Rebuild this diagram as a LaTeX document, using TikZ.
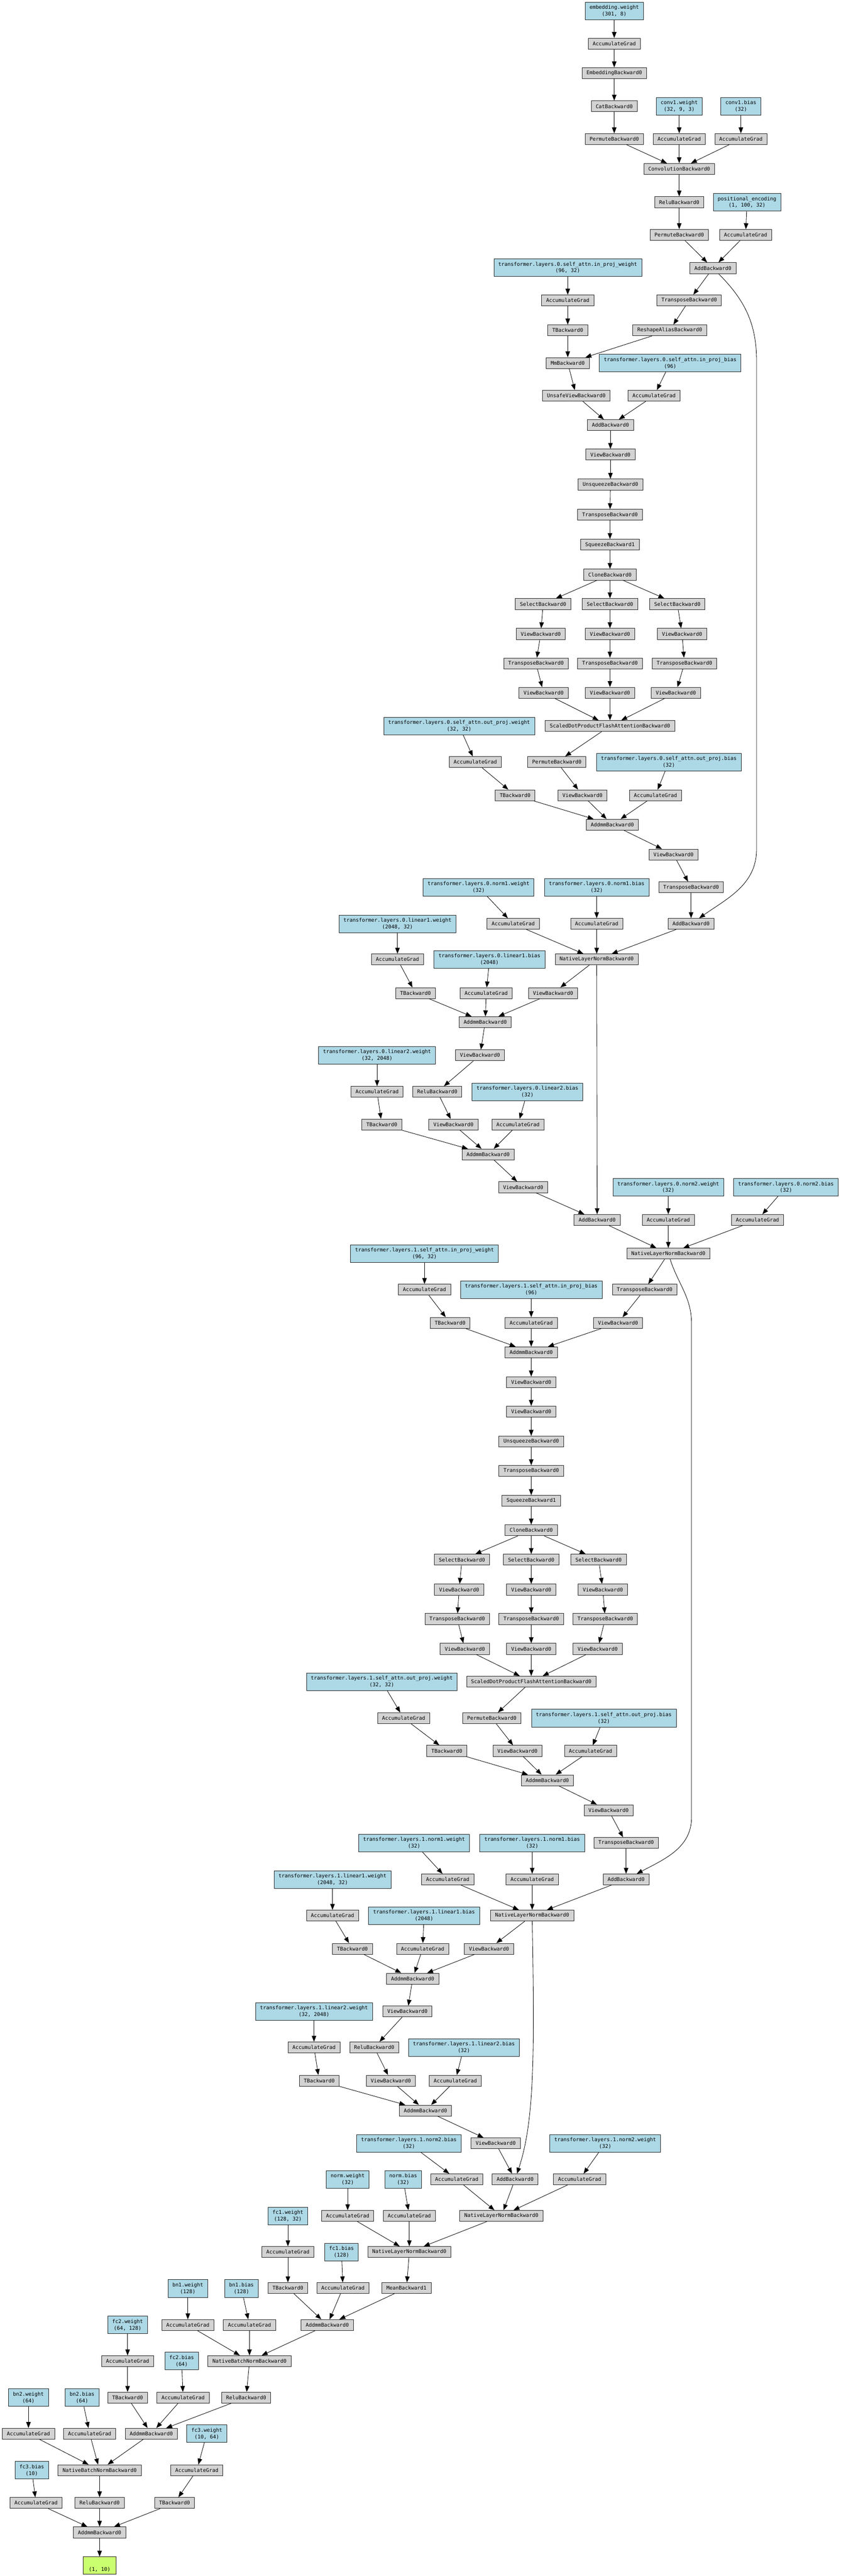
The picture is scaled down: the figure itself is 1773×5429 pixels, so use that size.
\documentclass[tikz,border=0pt]{standalone}
\usepackage{fontspec}
\setmonofont{DejaVu Sans Mono}
\usetikzlibrary{arrows.meta}
\definecolor{fngray}{HTML}{D3D3D3}
\definecolor{parblue}{HTML}{ADD8E6}
\definecolor{outgreen}{HTML}{CAFF70}
\newcommand{\gvfont}{\fontsize{10.8}{14}\selectfont\ttfamily}

\begin{document}
\begin{tikzpicture}[x=1pt, y=1pt, line width=0.9pt, >={Stealth[inset=0pt, length=12.5pt, width=9.5pt]},
	gradfn/.style={draw=black!85, rectangle, fill=fngray, minimum height=23pt, inner xsep=9.5pt, inner ysep=2pt, font=\gvfont},
	param/.style={gradfn, fill=parblue, minimum height=37pt, align=center},
	outv/.style={gradfn, fill=outgreen, minimum height=37pt, minimum width=70pt, align=center}]
				\fill[white] (0, 0) rectangle (1773, -5429);
				\node[param] (EW)at(1295, -23) {embedding.weight\\(301, 8)};
				\node[gradfn] (AGEW)at(1295, -92) {AccumulateGrad};
				\node[gradfn] (EMB)at(1295, -154) {EmbeddingBackward0};
				\node[gradfn] (CAT)at(1295, -224) {CatBackward0};
				\node[param] (CW)at(1432, -224) {conv1.weight\\(32, 9, 3)};
				\node[param] (CB)at(1562, -224) {conv1.bias\\(32)};
				\node[gradfn] (PMA)at(1295, -293) {PermuteBackward0};
				\node[gradfn] (AGCW)at(1432, -293) {AccumulateGrad};
				\node[gradfn] (AGCB)at(1562, -293) {AccumulateGrad};
				\node[gradfn] (CONV)at(1432, -356) {ConvolutionBackward0};
				\node[gradfn] (RLC)at(1432, -426) {ReluBackward0};
				\node[param] (PE)at(1575, -426) {positional\_encoding\\(1, 100, 32)};
				\node[gradfn] (PMB)at(1432, -495) {PermuteBackward0};
				\node[gradfn] (AGPE)at(1572, -495) {AccumulateGrad};
				\node[gradfn] (ADDA)at(1503, -565) {AddBackward0};
				\node[param] (IW0)at(1197, -564) {transformer.layers.0.self\_attn.in\_proj\_weight\\(96, 32)};
				\node[gradfn] (AGIW0)at(1197, -633) {AccumulateGrad};
				\node[gradfn] (TRA0)at(1453, -633) {TransposeBackward0};
				\node[gradfn] (TIW0)at(1197, -696) {TBackward0};
				\node[gradfn] (RSA0)at(1412, -696) {ReshapeAliasBackward0};
				\node[gradfn] (MM0)at(1197, -765) {MmBackward0};
				\node[param] (IB0)at(1413, -765) {transformer.layers.0.self\_attn.in\_proj\_bias\\(96)};
				\node[gradfn] (UV0)at(1215, -834) {UnsafeViewBackward0};
				\node[gradfn] (AGIB0)at(1379, -834) {AccumulateGrad};
				\node[gradfn] (ADDB0)at(1287, -896) {AddBackward0};
				\node[gradfn] (VA0)at(1287, -958) {ViewBackward0};
				\node[gradfn] (UNS0)at(1287, -1021) {UnsqueezeBackward0};
				\node[gradfn] (TRB0)at(1286, -1085) {TransposeBackward0};
				\node[gradfn] (SQ0)at(1286, -1148) {SqueezeBackward1};
				\node[gradfn] (CL0)at(1286, -1211) {CloneBackward0};
				\node[gradfn] (SL0)at(1145, -1273) {SelectBackward0};
				\node[gradfn] (SM0)at(1286, -1273) {SelectBackward0};
				\node[gradfn] (SR0)at(1428, -1273) {SelectBackward0};
				\node[gradfn] (VL0)at(1140, -1336) {ViewBackward0};
				\node[gradfn] (VM0)at(1286, -1336) {ViewBackward0};
				\node[gradfn] (VR0)at(1438, -1336) {ViewBackward0};
				\node[gradfn] (TL0)at(1130, -1398) {TransposeBackward0};
				\node[gradfn] (TM0)at(1286, -1398) {TransposeBackward0};
				\node[gradfn] (TR0)at(1443, -1398) {TransposeBackward0};
				\node[gradfn] (QL0)at(1146, -1460) {ViewBackward0};
				\node[gradfn] (QM0)at(1286, -1460) {ViewBackward0};
				\node[gradfn] (QR0)at(1425, -1460) {ViewBackward0};
				\node[gradfn] (SDP0)at(1286, -1530) {ScaledDotProductFlashAttentionBackward0};
				\node[param] (OW0)at(968, -1530) {transformer.layers.0.self\_attn.out\_proj.weight\\(32, 32)};
				\node[gradfn] (AGOW0)at(1002, -1606) {AccumulateGrad};
				\node[gradfn] (PRM0)at(1174, -1606) {PermuteBackward0};
				\node[param] (OB0)at(1410, -1606) {transformer.layers.0.self\_attn.out\_proj.bias\\(32)};
				\node[gradfn] (TOW0)at(1086, -1676) {TBackward0};
				\node[gradfn] (VO0)at(1228, -1676) {ViewBackward0};
				\node[gradfn] (AGOB0)at(1382, -1676) {AccumulateGrad};
				\node[gradfn] (AMO0)at(1291, -1738) {AddmmBackward0};
				\node[gradfn] (VP0)at(1420, -1801) {ViewBackward0};
				\node[param] (N1W0)at(1009, -1870) {transformer.layers.0.norm1.weight\\(32)};
				\node[param] (N1B0)at(1258, -1870) {transformer.layers.0.norm1.bias\\(32)};
				\node[gradfn] (TRC0)at(1457, -1870) {TransposeBackward0};
				\node[param] (L1W0)at(838, -1947) {transformer.layers.0.linear1.weight\\(2048, 32)};
				\node[gradfn] (AGN1W0)at(1082, -1947) {AccumulateGrad};
				\node[gradfn] (AGN1B0)at(1258, -1947) {AccumulateGrad};
				\node[gradfn] (ADDC0)at(1457, -1947) {AddBackward0};
				\node[gradfn] (AGL1W0)at(838, -2022) {AccumulateGrad};
				\node[param] (L1B0)at(1032, -2022) {transformer.layers.0.linear1.bias\\(2048)};
				\node[gradfn] (NLA0)at(1258, -2022) {NativeLayerNormBackward0};
				\node[gradfn] (TL1W0)at(876, -2093) {TBackward0};
				\node[gradfn] (AGL1B0)at(1025, -2093) {AccumulateGrad};
				\node[gradfn] (VF0)at(1166, -2093) {ViewBackward0};
				\node[gradfn] (AMF0)at(1023, -2154) {AddmmBackward0};
				\node[param] (L2W0)at(795, -2224) {transformer.layers.0.linear2.weight\\(32, 2048)};
				\node[gradfn] (VG0)at(1012, -2224) {ViewBackward0};
				\node[gradfn] (AGL2W0)at(795, -2301) {AccumulateGrad};
				\node[gradfn] (RL0)at(922, -2301) {ReluBackward0};
				\node[param] (L2B0)at(1112, -2301) {transformer.layers.0.linear2.bias\\(32)};
				\node[gradfn] (TL2W0)at(805, -2370) {TBackward0};
				\node[gradfn] (VH0)at(956, -2370) {ViewBackward0};
				\node[gradfn] (AGL2B0)at(1092, -2370) {AccumulateGrad};
				\node[gradfn] (AMG0)at(1029, -2433) {AddmmBackward0};
				\node[gradfn] (VI0)at(1103, -2502) {ViewBackward0};
				\node[param] (N2W0)at(1409, -2502) {transformer.layers.0.norm2.weight\\(32)};
				\node[param] (N2B0)at(1657, -2502) {transformer.layers.0.norm2.bias\\(32)};
				\node[gradfn] (ADDD0)at(1259, -2571) {AddBackward0};
				\node[gradfn] (AGN2W0)at(1409, -2571) {AccumulateGrad};
				\node[gradfn] (AGN2B0)at(1597, -2571) {AccumulateGrad};
				\node[gradfn] (NLB0)at(1409, -2642) {NativeLayerNormBackward0};
				\node[param] (IW1)at(895, -2642) {transformer.layers.1.self\_attn.in\_proj\_weight\\(96, 32)};
				\node[gradfn] (AGIW1)at(895, -2718) {AccumulateGrad};
				\node[param] (IB1)at(1120, -2718) {transformer.layers.1.self\_attn.in\_proj\_bias\\(96)};
				\node[gradfn] (TRA1)at(1359, -2718) {TransposeBackward0};
				\node[gradfn] (TIW1)at(949, -2788) {TBackward0};
				\node[gradfn] (AGIB1)at(1120, -2788) {AccumulateGrad};
				\node[gradfn] (VA1)at(1303, -2788) {ViewBackward0};
				\node[gradfn] (AMA1)at(1120, -2850) {AddmmBackward0};
				\node[gradfn] (VB1)at(1120, -2913) {ViewBackward0};
				\node[gradfn] (VC1)at(1120, -2975) {ViewBackward0};
				\node[gradfn] (UNS1)at(1120, -3038) {UnsqueezeBackward0};
				\node[gradfn] (TRB1)at(1120, -3100) {TransposeBackward0};
				\node[gradfn] (SQ1)at(1120, -3163) {SqueezeBackward1};
				\node[gradfn] (CL1)at(1120, -3225) {CloneBackward0};
				\node[gradfn] (SL1)at(974, -3287) {SelectBackward0};
				\node[gradfn] (SM1)at(1120, -3287) {SelectBackward0};
				\node[gradfn] (SR1)at(1262, -3287) {SelectBackward0};
				\node[gradfn] (VL1)at(968, -3350) {ViewBackward0};
				\node[gradfn] (VM1)at(1120, -3350) {ViewBackward0};
				\node[gradfn] (VR1)at(1271, -3350) {ViewBackward0};
				\node[gradfn] (TL1)at(964, -3412) {TransposeBackward0};
				\node[gradfn] (TM1)at(1120, -3412) {TransposeBackward0};
				\node[gradfn] (TR1)at(1276, -3412) {TransposeBackward0};
				\node[gradfn] (QL1)at(980, -3475) {ViewBackward0};
				\node[gradfn] (QM1)at(1120, -3475) {ViewBackward0};
				\node[gradfn] (QR1)at(1260, -3475) {ViewBackward0};
				\node[gradfn] (SDP1)at(1120, -3544) {ScaledDotProductFlashAttentionBackward0};
				\node[param] (OW1)at(805, -3544) {transformer.layers.1.self\_attn.out\_proj.weight\\(32, 32)};
				\node[gradfn] (AGOW1)at(851, -3621) {AccumulateGrad};
				\node[gradfn] (PRM1)at(1037, -3621) {PermuteBackward0};
				\node[param] (OB1)at(1273, -3621) {transformer.layers.1.self\_attn.out\_proj.bias\\(32)};
				\node[gradfn] (TOW1)at(942, -3690) {TBackward0};
				\node[gradfn] (VO1)at(1091, -3690) {ViewBackward0};
				\node[gradfn] (AGOB1)at(1245, -3690) {AccumulateGrad};
				\node[gradfn] (AMO1)at(1154, -3752) {AddmmBackward0};
				\node[gradfn] (VP1)at(1283, -3815) {ViewBackward0};
				\node[param] (N1W1)at(873, -3884) {transformer.layers.1.norm1.weight\\(32)};
				\node[param] (N1B1)at(1122, -3884) {transformer.layers.1.norm1.bias\\(32)};
				\node[gradfn] (TRC1)at(1320, -3884) {TransposeBackward0};
				\node[param] (L1W1)at(701, -3961) {transformer.layers.1.linear1.weight\\(2048, 32)};
				\node[gradfn] (AGN1W1)at(944, -3961) {AccumulateGrad};
				\node[gradfn] (AGN1B1)at(1122, -3961) {AccumulateGrad};
				\node[gradfn] (ADDC1)at(1320, -3961) {AddBackward0};
				\node[gradfn] (AGL1W1)at(701, -4037) {AccumulateGrad};
				\node[param] (L1B1)at(894, -4037) {transformer.layers.1.linear1.bias\\(2048)};
				\node[gradfn] (NLA1)at(1122, -4037) {NativeLayerNormBackward0};
				\node[gradfn] (TL1W1)at(743, -4107) {TBackward0};
				\node[gradfn] (AGL1B1)at(891, -4107) {AccumulateGrad};
				\node[gradfn] (VF1)at(1031, -4107) {ViewBackward0};
				\node[gradfn] (AMF1)at(870, -4170) {AddmmBackward0};
				\node[param] (L2W1)at(662, -4239) {transformer.layers.1.linear2.weight\\(32, 2048)};
				\node[gradfn] (VG1)at(859, -4239) {ViewBackward0};
				\node[gradfn] (AGL2W1)at(662, -4315) {AccumulateGrad};
				\node[gradfn] (RL1)at(789, -4315) {ReluBackward0};
				\node[param] (L2B1)at(978, -4315) {transformer.layers.1.linear2.bias\\(32)};
				\node[gradfn] (TL2W1)at(673, -4385) {TBackward0};
				\node[gradfn] (VH1)at(824, -4385) {ViewBackward0};
				\node[gradfn] (AGL2B1)at(960, -4385) {AccumulateGrad};
				\node[gradfn] (AMG1)at(897, -4448) {AddmmBackward0};
				\node[param] (N2B1)at(862, -4517) {transformer.layers.1.norm2.bias\\(32)};
				\node[gradfn] (VI1)at(1045, -4517) {ViewBackward0};
				\node[param] (N2W1)at(1276, -4517) {transformer.layers.1.norm2.weight\\(32)};
				\node[param] (NW)at(733, -4593) {norm.weight\\(32)};
				\node[param] (NB)at(850, -4593) {norm.bias\\(32)};
				\node[gradfn] (AGN2B1)at(963, -4593) {AccumulateGrad};
				\node[gradfn] (ADDD1)at(1086, -4593) {AddBackward0};
				\node[gradfn] (AGN2W1)at(1222, -4593) {AccumulateGrad};
				\node[param] (F1W)at(607, -4670) {fc1.weight\\(128, 32)};
				\node[gradfn] (AGNW)at(733, -4670) {AccumulateGrad};
				\node[gradfn] (AGNB)at(863, -4670) {AccumulateGrad};
				\node[gradfn] (NLB1)at(1057, -4670) {NativeLayerNormBackward0};
				\node[gradfn] (AGF1W)at(607, -4746) {AccumulateGrad};
				\node[param] (F1B)at(720, -4746) {fc1.bias\\(128)};
				\node[gradfn] (NLC)at(863, -4746) {NativeLayerNormBackward0};
				\node[param] (B1W)at(396, -4823) {bn1.weight\\(128)};
				\node[param] (B1B)at(509, -4823) {bn1.bias\\(128)};
				\node[gradfn] (TF1)at(607, -4822) {TBackward0};
				\node[gradfn] (AGF1B)at(723, -4822) {AccumulateGrad};
				\node[gradfn] (MEAN)at(857, -4822) {MeanBackward1};
				\node[param] (F2W)at(269, -4900) {fc2.weight\\(64, 128)};
				\node[gradfn] (AGB1W)at(396, -4900) {AccumulateGrad};
				\node[gradfn] (AGB1B)at(526, -4900) {AccumulateGrad};
				\node[gradfn] (AMFC1)at(690, -4900) {AddmmBackward0};
				\node[gradfn] (AGF2W)at(269, -4976) {AccumulateGrad};
				\node[param] (F2B)at(383, -4976) {fc2.bias\\(64)};
				\node[gradfn] (BNA)at(526, -4976) {NativeBatchNormBackward0};
				\node[param] (B2W)at(60, -5053) {bn2.weight\\(64)};
				\node[param] (B2B)at(173, -5053) {bn2.bias\\(64)};
				\node[gradfn] (TF2)at(269, -5053) {TBackward0};
				\node[gradfn] (AGF2B)at(386, -5053) {AccumulateGrad};
				\node[gradfn] (RLBA)at(519, -5053) {ReluBackward0};
				\node[gradfn] (AGB2W)at(60, -5129) {AccumulateGrad};
				\node[gradfn] (AGB2B)at(189, -5129) {AccumulateGrad};
				\node[gradfn] (AMFC2)at(319, -5129) {AddmmBackward0};
				\node[param] (F3W)at(436, -5129) {fc3.weight\\(10, 64)};
				\node[param] (F3B)at(67, -5206) {fc3.bias\\(10)};
				\node[gradfn] (BNB)at(210, -5206) {NativeBatchNormBackward0};
				\node[gradfn] (AGF3W)at(415, -5206) {AccumulateGrad};
				\node[gradfn] (AGF3B)at(76, -5275) {AccumulateGrad};
				\node[gradfn] (RLBB)at(210, -5275) {ReluBackward0};
				\node[gradfn] (TF3)at(368, -5275) {TBackward0};
				\node[gradfn] (AMFC3)at(210, -5337) {AddmmBackward0};
				\node[outv] (OUT)at(210, -5407) {\strut\\(1, 10)};
				\coordinate (R0a)at(1595, -760);
				\coordinate (R0b)at(1595, -1790);
				\coordinate (R1a)at(1458, -2790);
				\coordinate (R1b)at(1458, -3830);
				\draw[->] (EW) -- (AGEW);
				\draw[->] (AGEW) -- (EMB);
				\draw[->] (EMB) -- (CAT);
				\draw[->] (CAT) -- (PMA);
				\draw[->] (PMA) -- (CONV);
				\draw[->] (CW) -- (AGCW);
				\draw[->] (AGCW) -- (CONV);
				\draw[->] (CB) -- (AGCB);
				\draw[->] (AGCB) -- (CONV);
				\draw[->] (CONV) -- (RLC);
				\draw[->] (RLC) -- (PMB);
				\draw[->] (PE) -- (AGPE);
				\draw[->] (PMB) -- (ADDA);
				\draw[->] (AGPE) -- (ADDA);
				\draw[->] (ADDA) -- (TRA0);
				\draw[->] (ADDA) to[out=-45, in=90] (R0a) -- (R0b) to[out=-90, in=35] (ADDC0);
				\draw[->] (IW0) -- (AGIW0);
				\draw[->] (AGIW0) -- (TIW0);
				\draw[->] (TIW0) -- (MM0);
				\draw[->] (TRA0) -- (RSA0);
				\draw[->] (RSA0) -- (MM0);
				\draw[->] (MM0) -- (UV0);
				\draw[->] (IB0) -- (AGIB0);
				\draw[->] (UV0) -- (ADDB0);
				\draw[->] (AGIB0) -- (ADDB0);
				\draw[->] (ADDB0) -- (VA0);
				\draw[->] (VA0) -- (UNS0);
				\draw[->] (UNS0) -- (TRB0);
				\draw[->] (TRB0) -- (SQ0);
				\draw[->] (SQ0) -- (CL0);
				\draw[->] (CL0) -- (SL0);
				\draw[->] (CL0) -- (SM0);
				\draw[->] (CL0) -- (SR0);
				\draw[->] (SL0) -- (VL0);
				\draw[->] (SM0) -- (VM0);
				\draw[->] (SR0) -- (VR0);
				\draw[->] (VL0) -- (TL0);
				\draw[->] (VM0) -- (TM0);
				\draw[->] (VR0) -- (TR0);
				\draw[->] (TL0) -- (QL0);
				\draw[->] (TM0) -- (QM0);
				\draw[->] (TR0) -- (QR0);
				\draw[->] (QL0) -- (SDP0);
				\draw[->] (QM0) -- (SDP0);
				\draw[->] (QR0) -- (SDP0);
				\draw[->] (OW0) -- (AGOW0);
				\draw[->] (AGOW0) -- (TOW0);
				\draw[->] (SDP0) -- (PRM0);
				\draw[->] (PRM0) -- (VO0);
				\draw[->] (OB0) -- (AGOB0);
				\draw[->] (TOW0) -- (AMO0);
				\draw[->] (VO0) -- (AMO0);
				\draw[->] (AGOB0) -- (AMO0);
				\draw[->] (AMO0) -- (VP0);
				\draw[->] (VP0) -- (TRC0);
				\draw[->] (TRC0) -- (ADDC0);
				\draw[->] (N1W0) -- (AGN1W0);
				\draw[->] (N1B0) -- (AGN1B0);
				\draw[->] (AGN1W0) -- (NLA0);
				\draw[->] (AGN1B0) -- (NLA0);
				\draw[->] (ADDC0) -- (NLA0);
				\draw[->] (L1W0) -- (AGL1W0);
				\draw[->] (AGL1W0) -- (TL1W0);
				\draw[->] (L1B0) -- (AGL1B0);
				\draw[->] (NLA0) -- (VF0);
				\draw[->] (TL1W0) -- (AMF0);
				\draw[->] (AGL1B0) -- (AMF0);
				\draw[->] (VF0) -- (AMF0);
				\draw[->] (AMF0) -- (VG0);
				\draw[->] (VG0) -- (RL0);
				\draw[->] (L2W0) -- (AGL2W0);
				\draw[->] (AGL2W0) -- (TL2W0);
				\draw[->] (RL0) -- (VH0);
				\draw[->] (L2B0) -- (AGL2B0);
				\draw[->] (TL2W0) -- (AMG0);
				\draw[->] (VH0) -- (AMG0);
				\draw[->] (AGL2B0) -- (AMG0);
				\draw[->] (AMG0) -- (VI0);
				\draw[->] (VI0) -- (ADDD0);
				\draw[->] (NLA0) -- (ADDD0);
				\draw[->] (N2W0) -- (AGN2W0);
				\draw[->] (N2B0) -- (AGN2B0);
				\draw[->] (ADDD0) -- (NLB0);
				\draw[->] (AGN2W0) -- (NLB0);
				\draw[->] (AGN2B0) -- (NLB0);
				\draw[->] (NLB0) -- (TRA1);
				\draw[->] (NLB0) to[out=-72, in=90] (R1a) -- (R1b) to[out=-90, in=28] (ADDC1);
				\draw[->] (IW1) -- (AGIW1);
				\draw[->] (AGIW1) -- (TIW1);
				\draw[->] (IB1) -- (AGIB1);
				\draw[->] (TRA1) -- (VA1);
				\draw[->] (TIW1) -- (AMA1);
				\draw[->] (AGIB1) -- (AMA1);
				\draw[->] (VA1) -- (AMA1);
				\draw[->] (AMA1) -- (VB1);
				\draw[->] (VB1) -- (VC1);
				\draw[->] (VC1) -- (UNS1);
				\draw[->] (UNS1) -- (TRB1);
				\draw[->] (TRB1) -- (SQ1);
				\draw[->] (SQ1) -- (CL1);
				\draw[->] (CL1) -- (SL1);
				\draw[->] (CL1) -- (SM1);
				\draw[->] (CL1) -- (SR1);
				\draw[->] (SL1) -- (VL1);
				\draw[->] (SM1) -- (VM1);
				\draw[->] (SR1) -- (VR1);
				\draw[->] (VL1) -- (TL1);
				\draw[->] (VM1) -- (TM1);
				\draw[->] (VR1) -- (TR1);
				\draw[->] (TL1) -- (QL1);
				\draw[->] (TM1) -- (QM1);
				\draw[->] (TR1) -- (QR1);
				\draw[->] (QL1) -- (SDP1);
				\draw[->] (QM1) -- (SDP1);
				\draw[->] (QR1) -- (SDP1);
				\draw[->] (OW1) -- (AGOW1);
				\draw[->] (AGOW1) -- (TOW1);
				\draw[->] (SDP1) -- (PRM1);
				\draw[->] (PRM1) -- (VO1);
				\draw[->] (OB1) -- (AGOB1);
				\draw[->] (TOW1) -- (AMO1);
				\draw[->] (VO1) -- (AMO1);
				\draw[->] (AGOB1) -- (AMO1);
				\draw[->] (AMO1) -- (VP1);
				\draw[->] (VP1) -- (TRC1);
				\draw[->] (TRC1) -- (ADDC1);
				\draw[->] (N1W1) -- (AGN1W1);
				\draw[->] (N1B1) -- (AGN1B1);
				\draw[->] (AGN1W1) -- (NLA1);
				\draw[->] (AGN1B1) -- (NLA1);
				\draw[->] (ADDC1) -- (NLA1);
				\draw[->] (L1W1) -- (AGL1W1);
				\draw[->] (AGL1W1) -- (TL1W1);
				\draw[->] (L1B1) -- (AGL1B1);
				\draw[->] (NLA1) -- (VF1);
				\draw[->] (TL1W1) -- (AMF1);
				\draw[->] (AGL1B1) -- (AMF1);
				\draw[->] (VF1) -- (AMF1);
				\draw[->] (AMF1) -- (VG1);
				\draw[->] (VG1) -- (RL1);
				\draw[->] (L2W1) -- (AGL2W1);
				\draw[->] (AGL2W1) -- (TL2W1);
				\draw[->] (RL1) -- (VH1);
				\draw[->] (L2B1) -- (AGL2B1);
				\draw[->] (TL2W1) -- (AMG1);
				\draw[->] (VH1) -- (AMG1);
				\draw[->] (AGL2B1) -- (AMG1);
				\draw[->] (AMG1) -- (VI1);
				\draw[->] (VI1) -- (ADDD1);
				\draw[->] (NLA1) .. controls (1127, -4330) and (1127, -4470) .. (ADDD1);
				\draw[->] (N2B1) -- (AGN2B1);
				\draw[->] (N2W1) -- (AGN2W1);
				\draw[->] (AGN2B1) -- (NLB1);
				\draw[->] (ADDD1) -- (NLB1);
				\draw[->] (AGN2W1) -- (NLB1);
				\draw[->] (NW) -- (AGNW);
				\draw[->] (NB) -- (AGNB);
				\draw[->] (AGNW) -- (NLC);
				\draw[->] (AGNB) -- (NLC);
				\draw[->] (NLB1) -- (NLC);
				\draw[->] (NLC) -- (MEAN);
				\draw[->] (F1W) -- (AGF1W);
				\draw[->] (AGF1W) -- (TF1);
				\draw[->] (F1B) -- (AGF1B);
				\draw[->] (TF1) -- (AMFC1);
				\draw[->] (AGF1B) -- (AMFC1);
				\draw[->] (MEAN) -- (AMFC1);
				\draw[->] (B1W) -- (AGB1W);
				\draw[->] (B1B) -- (AGB1B);
				\draw[->] (AGB1W) -- (BNA);
				\draw[->] (AGB1B) -- (BNA);
				\draw[->] (AMFC1) -- (BNA);
				\draw[->] (BNA) -- (RLBA);
				\draw[->] (F2W) -- (AGF2W);
				\draw[->] (AGF2W) -- (TF2);
				\draw[->] (F2B) -- (AGF2B);
				\draw[->] (TF2) -- (AMFC2);
				\draw[->] (AGF2B) -- (AMFC2);
				\draw[->] (RLBA) -- (AMFC2);
				\draw[->] (B2W) -- (AGB2W);
				\draw[->] (B2B) -- (AGB2B);
				\draw[->] (AGB2W) -- (BNB);
				\draw[->] (AGB2B) -- (BNB);
				\draw[->] (AMFC2) -- (BNB);
				\draw[->] (BNB) -- (RLBB);
				\draw[->] (F3W) -- (AGF3W);
				\draw[->] (AGF3W) -- (TF3);
				\draw[->] (F3B) -- (AGF3B);
				\draw[->] (AGF3B) -- (AMFC3);
				\draw[->] (RLBB) -- (AMFC3);
				\draw[->] (TF3) -- (AMFC3);
				\draw[->] (AMFC3) -- (OUT);
\end{tikzpicture}
\end{document}
